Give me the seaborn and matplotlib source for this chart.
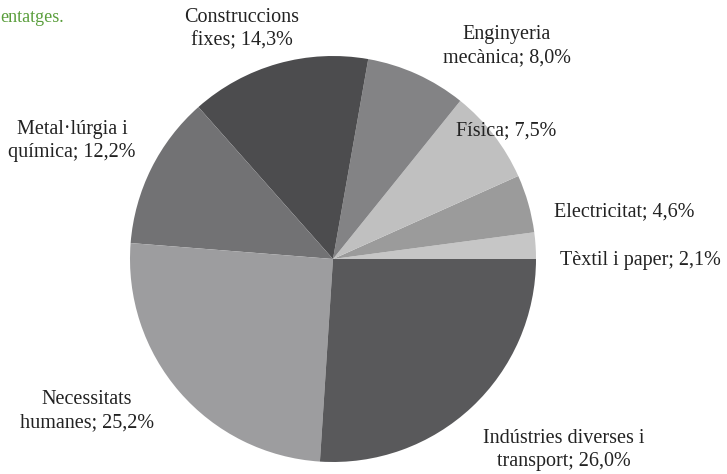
import matplotlib
matplotlib.use("Agg")
import matplotlib.pyplot as plt
import seaborn as sns

sns.set_theme(style="white")
plt.rcParams['font.family'] = ['Liberation Serif', 'DejaVu Serif']

# data, counterclockwise from 3 o'clock
categories = ["Tèxtil i paper", "Electricitat", "Física", "Enginyeria\nmecànica",
              "Construccions\nfixes", "Metal·lúrgia i\nquímica", "Necessitats\nhumanes",
              "Indústries diverses i\ntransport"]
shares = [2.1, 4.6, 7.5, 8.0, 14.3, 12.2, 25.2, 26.0]
greys = ["#c6c6c6", "#9b9b9b", "#c0c0c0", "#838385", "#4c4c4e", "#727274", "#9d9d9f", "#59595b"]

# label positions in pixels (x, y from top)
label_pos = [(640, 260), (624, 212), (506, 131), (507, 46),
             (242, 29), (72, 141), (87, 411), (564, 450)]

W, H = 727, 474
fig = plt.figure(figsize=(W / 100, H / 100), dpi=100)
ax = fig.add_axes([0, 0, 1, 1])

ax.pie(shares, colors=greys, startangle=0, counterclock=True,
       center=(333, H - 259), radius=203,
       wedgeprops=dict(linewidth=0))

for cat, val, (x, y) in zip(categories, shares, label_pos):
    txt = cat + "; " + ("%.1f" % val).replace(".", ",") + "%"
    ax.text(x, H - y, txt, ha="center", va="center", fontsize=14.5,
            color="#222222", linespacing=1.25)

# cropped caption fragment at top left
ax.text(0, H - 17, "entatges.", ha="left", va="center", fontsize=13, color="#5a9e3c")

ax.set_xlim(0, W)
ax.set_ylim(0, H)
ax.set_aspect("equal")
ax.axis("off")

plt.savefig("out.png", dpi=100)
